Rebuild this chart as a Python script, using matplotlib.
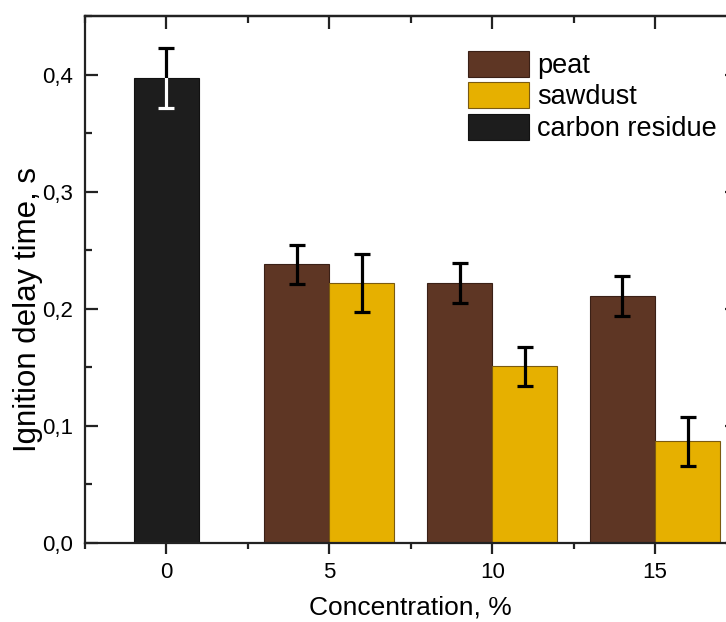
import matplotlib
matplotlib.use("Agg")
import matplotlib.pyplot as plt
from matplotlib.ticker import MultipleLocator, FixedLocator, FixedFormatter
import numpy as np

plt.rcParams["font.family"] = ["Liberation Sans", "DejaVu Sans"]

# Ignition delay data (mean and error) per concentration
carbon_conc = [0]
carbon_delay = [0.397]
carbon_err = [0.0255]

blend_conc = [5, 10, 15]
peat_delay = [0.238, 0.222, 0.211]
peat_err = [0.0167, 0.0167, 0.0168]
sawdust_delay = [0.222, 0.151, 0.087]
sawdust_err = [0.025, 0.0166, 0.021]

series_names = ["peat", "sawdust", "carbon residue"]
y_ticks = [0.0, 0.1, 0.2, 0.3, 0.4]
y_tick_labels = ["0,0", "0,1", "0,2", "0,3", "0,4"]
x_ticks = [0, 5, 10, 15]

peat_color = "#5e3624"
sawdust_color = "#e6b000"
carbon_color = "#1d1d1d"

W, H = 726, 622
fig = plt.figure(figsize=(W / 100, H / 100), dpi=100)
ax_w = 736.5 - 85
ax_h = 543 - 16
ax = fig.add_axes([85 / W, 1 - 543 / H, ax_w / W, ax_h / H])

bw = 2.0
bars_c = ax.bar(carbon_conc, carbon_delay, width=bw, color=carbon_color,
                edgecolor="#111111", linewidth=0.8, label=series_names[2])
bars_p = ax.bar(np.array(blend_conc) - bw / 2, peat_delay, width=bw, color=peat_color,
                edgecolor="#3a2016", linewidth=0.8, label=series_names[0])
bars_s = ax.bar(np.array(blend_conc) + bw / 2, sawdust_delay, width=bw, color=sawdust_color,
                edgecolor="#7a5a10", linewidth=0.8, label=series_names[1])

eb_kw = dict(fmt="none", ecolor="black", elinewidth=2.3, capsize=5.5, capthick=2.3, zorder=3)
ax.errorbar(carbon_conc, carbon_delay, yerr=carbon_err, **eb_kw)
ax.errorbar(np.array(blend_conc) - bw / 2, peat_delay, yerr=peat_err, **eb_kw)
ax.errorbar(np.array(blend_conc) + bw / 2, sawdust_delay, yerr=sawdust_err, **eb_kw)

# white copy of the carbon residue error bar, visible only inside the dark bar
white_kw = dict(eb_kw)
white_kw["ecolor"] = "white"
white_kw["zorder"] = 4
eb_white = ax.errorbar(carbon_conc, carbon_delay, yerr=carbon_err, **white_kw)
clip_patch = bars_c.patches[0]
for caps in eb_white.lines[1]:
    caps.set_clip_path(clip_patch)
for coll in eb_white.lines[2]:
    coll.set_clip_path(clip_patch)

ax.set_xlim(-2.5, 17.5)
ax.set_ylim(0, 0.45)

ax.xaxis.set_major_locator(FixedLocator(x_ticks))
ax.xaxis.set_minor_locator(MultipleLocator(2.5))
ax.yaxis.set_major_locator(FixedLocator(y_ticks))
ax.yaxis.set_major_formatter(FixedFormatter(y_tick_labels))
ax.yaxis.set_minor_locator(MultipleLocator(0.05))

for s in ax.spines.values():
    s.set_linewidth(1.6)
    s.set_color("#222222")

ax.tick_params(axis="x", which="both", direction="out", bottom=True, top=False,
               labelsize=16, width=1.6, color="#222222", pad=5.5)
ax.tick_params(axis="x", which="major", length=8)
ax.tick_params(axis="x", which="minor", length=4)
ax.tick_params(axis="y", which="both", direction="in", left=True, right=True,
               labelsize=16, width=1.6, color="#222222", pad=8.5)
ax.tick_params(axis="y", which="major", length=9)
ax.tick_params(axis="y", which="minor", length=5)

# inward ticks along the top edge
top = ax.secondary_xaxis("top")
top.xaxis.set_major_locator(FixedLocator(x_ticks))
top.xaxis.set_minor_locator(MultipleLocator(2.5))
top.tick_params(axis="x", which="both", direction="in", labeltop=False, width=1.6, color="#222222")
top.tick_params(axis="x", which="major", length=9)
top.tick_params(axis="x", which="minor", length=5)
top.spines["top"].set_linewidth(1.6)

ax.set_xlabel("Concentration, %", fontsize=19)
ax.xaxis.set_label_coords(0.5, (543 - 596) / ax_h)
ax.set_ylabel("Ignition delay time, s", fontsize=22.5)
ax.yaxis.set_label_coords((43 - 85) / ax_w, (543 - 310) / ax_h)

handles = [bars_p, bars_s, bars_c]
fs = 19.5
fs_px = fs * 100 / 72
ax.legend(handles, series_names, loc="upper left",
          bbox_to_anchor=(468 / W, 1 - 50.7 / H), bbox_transform=fig.transFigure,
          frameon=False, fontsize=fs, borderpad=0, borderaxespad=0,
          handlelength=61 / fs_px, handleheight=30 / fs_px,
          labelspacing=0.12, handletextpad=0.3)

fig.savefig("out.png", dpi=100)
